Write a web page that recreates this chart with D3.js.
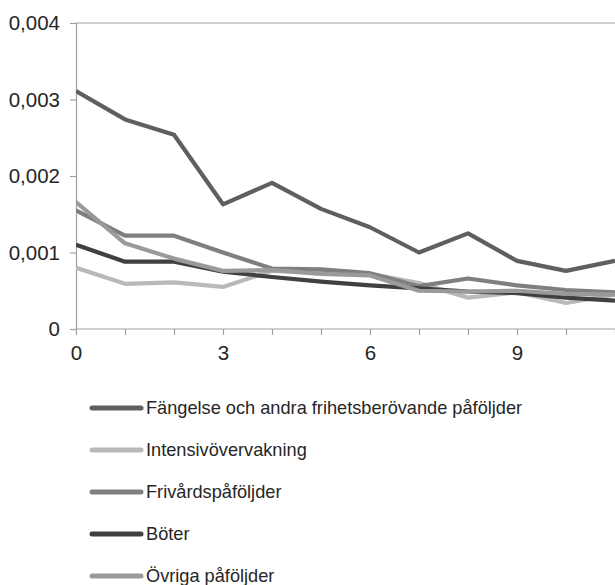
<!DOCTYPE html>
<html>
<head>
<meta charset="utf-8">
<script src="https://cdn.jsdelivr.net/npm/d3@7"></script>
<style>
  html, body { margin: 0; padding: 0; background: #fff; }
  svg { display: block; }
  text { font-family: "Liberation Sans", Arial, sans-serif; fill: #262626; }
</style>
</head>
<body>
<svg id="chart" width="615" height="585"></svg>
<script>
// ---- data ----
const xValues = [0, 1, 2, 3, 4, 5, 6, 7, 8, 9, 10, 11];
const seriesNames = [
  "Fängelse och andra frihetsberövande påföljder",
  "Intensivövervakning",
  "Frivårdspåföljder",
  "Böter",
  "Övriga påföljder"
];
const fangelse  = [0.00311, 0.00274, 0.00254, 0.00163, 0.00191, 0.00157, 0.00133, 0.00100, 0.00125, 0.00089, 0.00076, 0.00089];
const intensiv  = [0.00080, 0.00059, 0.00061, 0.00055, 0.00076, 0.00074, 0.00072, 0.00060, 0.00041, 0.00048, 0.00034, 0.00045];
const frivard   = [0.00155, 0.00122, 0.00122, 0.00100, 0.00079, 0.00078, 0.00073, 0.00056, 0.00066, 0.00057, 0.00051, 0.00048];
const boter     = [0.00110, 0.00088, 0.00088, 0.00075, 0.00068, 0.00062, 0.00057, 0.00053, 0.00049, 0.00047, 0.00041, 0.00037];
const ovriga    = [0.00166, 0.00112, 0.00092, 0.00076, 0.00077, 0.00072, 0.00070, 0.00050, 0.00049, 0.00050, 0.00046, 0.00045];
const seriesValues = [fangelse, intensiv, frivard, boter, ovriga];
const seriesColors = ["#5f5f5f", "#b9b9b9", "#7f7f7f", "#404040", "#9a9a9a"];
const yTicks = [0, 0.001, 0.002, 0.003, 0.004];
const xTickLabels = [0, 3, 6, 9];

// ---- layout ----
const svg = d3.select("#chart");
const plotLeft = 76, plotTop = 23, plotBottom = 329, rightEdge = 615;
const x = d3.scaleLinear().domain([0, 11]).range([plotLeft, plotLeft + 11 * 49]);
const y = d3.scaleLinear().domain([0, 0.004]).range([plotBottom, plotTop]);
const axisColor = "#a0a0a0";

svg.append("defs").append("clipPath").attr("id", "clip")
  .append("rect").attr("x", plotLeft).attr("y", 0).attr("width", rightEdge - plotLeft).attr("height", plotBottom + 2);

// top border
svg.append("line").attr("x1", plotLeft).attr("x2", rightEdge).attr("y1", y(0.004)).attr("y2", y(0.004))
  .attr("stroke", axisColor).attr("stroke-width", 1.2);

// y axis
const yAxis = d3.axisLeft(y).tickValues(yTicks).tickSize(6).tickPadding(10)
  .tickFormat(d => d === 0 ? "0" : d3.format(".3f")(d).replace(".", ","));
const gy = svg.append("g").attr("transform", `translate(${plotLeft},0)`).call(yAxis);
gy.select(".domain").attr("stroke", axisColor).attr("stroke-width", 1.2);
gy.selectAll(".tick line").attr("stroke", axisColor).attr("stroke-width", 1.2);
gy.selectAll(".tick text").style("font-size", "20.5px").attr("fill", "#262626").style("font-family", "Liberation Sans, Arial, sans-serif");

// x axis
const xAxis = d3.axisBottom(x).tickValues(xValues).tickSize(6).tickPadding(10)
  .tickFormat(d => xTickLabels.includes(d) ? String(d) : "");
const gx = svg.append("g").attr("transform", `translate(0,${plotBottom})`).call(xAxis);
gx.select(".domain").remove();
gx.append("line").attr("x1", plotLeft).attr("x2", rightEdge).attr("y1", 0).attr("y2", 0)
  .attr("stroke", axisColor).attr("stroke-width", 1.2);
gx.selectAll(".tick line").attr("stroke", axisColor).attr("stroke-width", 1.2);
gx.selectAll(".tick text").style("font-size", "20.5px").attr("fill", "#262626").style("font-family", "Liberation Sans, Arial, sans-serif");

// lines
const line = d3.line().x((d, i) => x(xValues[i])).y(d => y(d));
const lg = svg.append("g").attr("clip-path", "url(#clip)");
seriesValues.forEach((vals, i) => {
  lg.append("path").datum(vals).attr("d", line)
    .attr("fill", "none").attr("stroke", seriesColors[i]).attr("stroke-width", 4.2)
    .attr("stroke-linejoin", "round").attr("stroke-linecap", "butt");
});

// legend
const legendY0 = 408, legendDy = 42;
seriesNames.forEach((name, i) => {
  const yy = legendY0 + i * legendDy;
  svg.append("line").attr("x1", 92).attr("x2", 141).attr("y1", yy).attr("y2", yy)
    .attr("stroke", seriesColors[i]).attr("stroke-width", 5).attr("stroke-linecap", "round");
  svg.append("text").attr("x", 146).attr("y", yy + 6).text(name)
    .style("font-size", "18.2px").attr("fill", "#262626");
});
</script>
</body>
</html>
